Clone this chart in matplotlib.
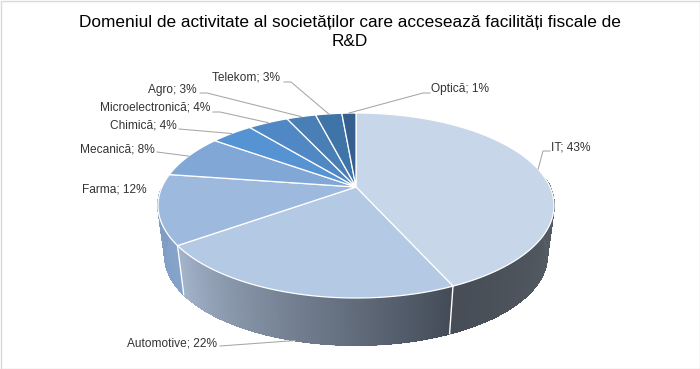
import numpy as np
import matplotlib
matplotlib.use('Agg')
import matplotlib.pyplot as plt
from matplotlib.collections import LineCollection, PolyCollection
from matplotlib.colors import to_rgb
from matplotlib.patches import Polygon, Rectangle

plt.rcParams['font.family'] = ['Liberation Sans', 'DejaVu Sans']

# data, unrounded shares
title_lines = ['Domeniul de activitate al societăților care accesează facilități fiscale de', 'R&D']
categories = ['IT', 'Automotive', 'Farma', 'Mecanică', 'Chimică',
              'Microelectronică', 'Agro', 'Telekom', 'Optică']
shares = [43.3, 21.8, 12.2, 7.6, 4.2, 4.0, 2.9, 2.6, 1.4]

top_colors = ['#c7d6e9', '#b4c9e3', '#9eb9de', '#80a7d6', '#5593d3',
              '#4f88c4', '#4a7fb5', '#3f74a8', '#345f8f']
# side wall colours at start and end of each visible slice
wall_colors = {0: ('#5c6269', '#474d56'), 1: ('#434b57', '#a3b3ca'), 2: ('#86a3c9', '#7f9dc4')}

# label position (left x, middle y) and where the leader line starts and bends
label_pos = [(551, 147), (127, 343), (82, 190), (80, 149), (110, 126),
             (100, 108), (148, 90), (212, 78), (431, 89)]
leaders = [[(550, 151), (543, 151)], [(220, 346)], None, [(157, 152)], [(179, 129)],
           [(213, 112), (220, 112)], [(200, 93), (207, 93)], [(284, 82), (291, 82)],
           [(430, 93), (423, 93)]]

# perspective projection of the pie disc
CX, CY = 356, 187
RX, RY = 194, 88.8
K = 0.2
DEPTH = 51
WALL_SCALE = 0.965
# the wall only shows on the front part of the disc
WALL_FROM, WALL_TO = 85, 268


def project(theta, depth=0.0, scale=1.0):
    # theta in degrees, clockwise from the top of the pie
    t = np.radians(theta)
    w = 1 + K * np.cos(t)
    x = CX + scale * RX * np.sin(t) / w
    y = CY + depth - scale * RY * np.cos(t) / w
    return x, y


fig = plt.figure(figsize=(7, 3.69), dpi=100)
ax = fig.add_axes([0, 0, 1, 1])
ax.set_xlim(0, 700)
ax.set_ylim(369, 0)
ax.axis('off')
ax.add_patch(Rectangle((0.5, 0.5), 699, 368, fill=False, edgecolor='#d9d9d9', linewidth=1))

edges = np.cumsum([0] + shares) / sum(shares) * 360

# side walls as thin quads so the colour can change along the slice
for i, (c0, c1) in wall_colors.items():
    angles = np.linspace(max(edges[i], WALL_FROM), min(edges[i + 1], WALL_TO), 160)
    x1, y1 = project(angles)
    x2, y2 = project(angles, DEPTH, WALL_SCALE)
    quads = []
    colors = []
    segs = []
    for j in range(len(angles) - 1):
        quads.append([(x1[j], y1[j]), (x1[j + 1], y1[j + 1]), (x2[j + 1], y2[j + 1]), (x2[j], y2[j])])
        segs.append([(x2[j], y2[j]), (x2[j + 1], y2[j + 1])])
        f = j / (len(angles) - 2)
        colors.append(tuple((1 - f) * np.array(to_rgb(c0)) + f * np.array(to_rgb(c1))))
    ax.add_collection(PolyCollection(quads, facecolors=colors, edgecolors=colors, linewidths=0.6,
                                     antialiaseds=False, zorder=2))
    # smooth lower rim, the quads above are not antialiased
    ax.add_collection(LineCollection(segs, colors=colors, linewidths=1, capstyle='round', zorder=2))

# white seams on the wall
for e in edges[1:3]:
    x1, y1 = project(e)
    x2, y2 = project(e, DEPTH, WALL_SCALE)
    ax.plot([x1, x2], [y1, y2], color='white', linewidth=1, zorder=3)

# top face
for i in range(len(shares)):
    angles = np.linspace(edges[i], edges[i + 1], 100)
    x, y = project(angles)
    pts = [(CX, CY)] + list(zip(x, y))
    ax.add_patch(Polygon(pts, closed=True, facecolor=top_colors[i], edgecolor='white',
                         linewidth=0.9, joinstyle='round', zorder=4))

# labels and leader lines
for i, name in enumerate(categories):
    ax.text(label_pos[i][0], label_pos[i][1], f'{name}; {round(shares[i])}%', fontsize=8.6,
            color='#333333', ha='left', va='center', zorder=6)
    if leaders[i] is None:
        continue
    mid = (edges[i] + edges[i + 1]) / 2
    if name == 'Automotive':
        end = project(mid, DEPTH, WALL_SCALE)
    else:
        end = project(mid)
    pts = leaders[i] + [end]
    ax.plot([p[0] for p in pts], [p[1] for p in pts], color='#a6a6a6', linewidth=0.75, zorder=5)

# title, two lines on their own baselines
ax.text(350, 27, title_lines[0], fontsize=12.45, color='black', ha='center', va='baseline')
ax.text(350, 46, title_lines[1], fontsize=12.45, color='black', ha='center', va='baseline')

fig.savefig('out.png', dpi=100)
